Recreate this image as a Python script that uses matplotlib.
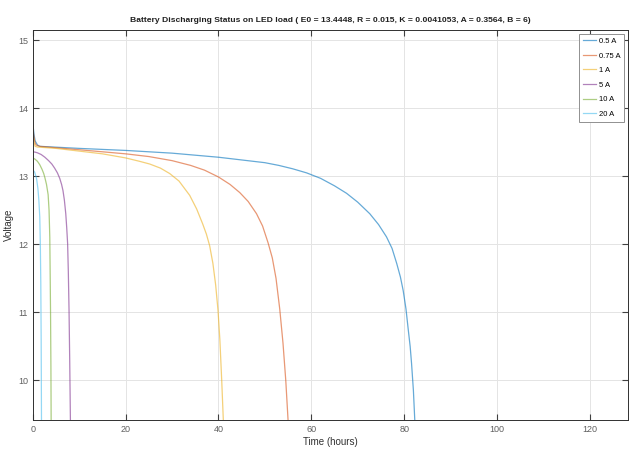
import matplotlib
matplotlib.use('Agg')
import matplotlib.pyplot as plt

# values (time in hours, voltage in V)
labels = ['0.5 A', '0.75 A', '1 A', '5 A', '10 A', '20 A']
colors = ['#0072BD', '#D95319', '#EDB120', '#7E2F8E', '#77AC30', '#4DBEEE']

t_05 = [0, 0.25, 0.5, 1, 1.5, 3, 10, 20, 30, 40, 45, 50, 53, 56, 59, 62, 65,
        67.6, 70, 72.6, 74.5, 76.2, 77.4, 78.4, 79.2, 79.8, 80.4, 80.9, 81.3,
        81.6, 82.0, 82.3, 82.6]
v_05 = [13.78, 13.62, 13.52, 13.46, 13.44, 13.435, 13.41, 13.38, 13.34, 13.28,
        13.24, 13.20, 13.16, 13.11, 13.05, 12.97, 12.86, 12.75, 12.62, 12.45,
        12.29, 12.11, 11.94, 11.72, 11.52, 11.32, 11.05, 10.74, 10.50, 10.25,
        9.85, 9.41, 9.0]

t_075 = [0, 0.15, 0.3, 0.5, 0.7, 1.5, 10, 20, 25, 30, 34, 37, 40, 42.5, 44.6,
         46.4, 48.2, 49.5, 50.7, 51.6, 52.4, 53.2, 53.9, 54.5, 55.0, 55.2]
v_075 = [13.75, 13.63, 13.55, 13.49, 13.46, 13.44, 13.39, 13.33, 13.29, 13.23,
         13.16, 13.09, 12.99, 12.88, 12.76, 12.63, 12.45, 12.27, 12.02, 11.80,
         11.50, 11.05, 10.55, 10.0, 9.41, 9.0]

t_1 = [0, 0.1, 0.25, 0.5, 1, 5, 10, 15, 20, 23, 25.2, 27.5, 29.5, 31.5, 33.8,
       35.3, 36.6, 37.4, 38.1, 38.8, 39.4, 39.9, 40.3, 40.7, 41.05, 41.2]
v_1 = [13.72, 13.60, 13.50, 13.44, 13.43, 13.41, 13.37, 13.33, 13.27, 13.22,
       13.18, 13.12, 13.04, 12.93, 12.72, 12.52, 12.30, 12.15, 11.98, 11.72,
       11.40, 11.03, 10.60, 10.0, 9.41, 9.0]

t_5 = [0, 0.5, 1, 1.8, 2.6, 3.4, 4.1, 4.7, 5.3, 5.8, 6.2, 6.5, 6.8, 7.1, 7.3,
       7.5, 7.65, 7.8, 7.95, 8.1, 8.2]
v_5 = [13.36, 13.355, 13.345, 13.32, 13.28, 13.23, 13.18, 13.12, 13.05, 12.97,
       12.88, 12.79, 12.65, 12.45, 12.25, 12.01, 11.60, 11.05, 10.30, 9.41, 9.0]

t_10 = [0, 0.5, 1, 1.5, 2, 2.35, 2.6, 2.95, 3.3, 3.5, 3.66, 3.75, 3.82, 3.9,
        3.95, 4.0]
v_10 = [13.27, 13.25, 13.22, 13.17, 13.10, 13.04, 12.98, 12.88, 12.73, 12.50,
        12.10, 11.50, 11.0, 10.2, 9.41, 9.0]

t_20 = [0, 0.4, 0.8, 1.1, 1.3, 1.5, 1.62, 1.72, 1.8, 1.87, 1.9]
v_20 = [13.10, 13.06, 12.97, 12.82, 12.65, 12.40, 12.0, 11.43, 10.6, 9.41, 9.0]

times = [t_05, t_075, t_1, t_5, t_10, t_20]
volts = [v_05, v_075, v_1, v_5, v_10, v_20]

title = ('Battery Discharging Status on LED load ( E0 = 13.4448, R = 0.015, '
         'K = 0.0041053, A = 0.3564, B = 6)')

plt.rcParams['font.family'] = ['Liberation Sans', 'DejaVu Sans']

fig = plt.figure(figsize=(6.31, 4.54), dpi=100)
ax = fig.add_axes([0.052, 0.075, 0.943, 0.859])

for t, v, c, lab in zip(times, volts, colors, labels):
    ax.plot(t, v, color=c, alpha=0.6, lw=0.9, label=lab)

ax.set_xlim(0, 128.2)
ax.set_ylim(9.42, 15.15)
ax.set_xticks([0, 20, 40, 60, 80, 100, 120])
ax.set_yticks([10, 11, 12, 13, 14, 15])

ax.grid(True, color='#e4e4e4', lw=0.7)
ax.set_axisbelow(True)
ax.tick_params(direction='in', top=True, right=True, length=4,
               labelsize=6.5, colors='#404040', labelcolor='#606060')
for s in ax.spines.values():
    s.set_color('#303030')
    s.set_linewidth(0.7)

ax.set_title(title, fontsize=6.1, fontweight='bold', color='#202020', pad=6)
ax.set_xlabel('Time (hours)', fontsize=7, color='#303030', labelpad=2)
ax.set_ylabel('Voltage', fontsize=7, color='#303030', labelpad=3)

leg = ax.legend(loc='upper right', fontsize=5.5, frameon=True, fancybox=False,
                framealpha=1, edgecolor='#909090', handlelength=1.8,
                handletextpad=0.3, labelspacing=0.95, borderpad=0.5,
                borderaxespad=0.5)
leg.get_frame().set_linewidth(0.7)

fig.savefig('out.png', dpi=100)
